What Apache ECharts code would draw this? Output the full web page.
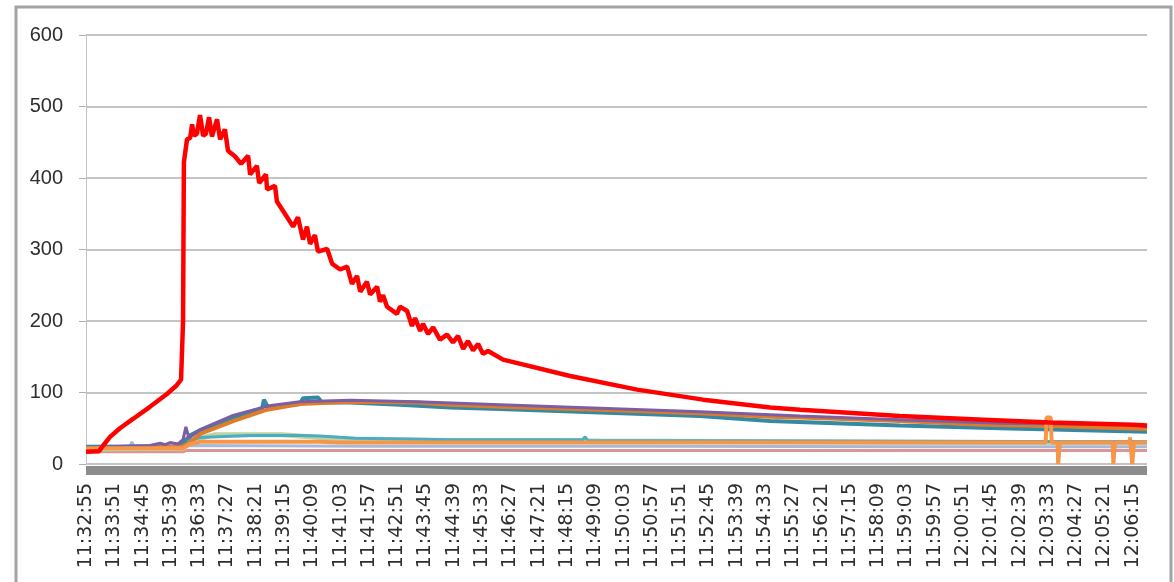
<!DOCTYPE html>
<html>
<head>
<meta charset="utf-8">
<title>chart</title>
<script src="https://cdn.jsdelivr.net/npm/echarts@6/dist/echarts.min.js"></script>
<style>
  html, body { margin: 0; padding: 0; background: #fff; }
  #myChart { width: 1174px; height: 582px; }
</style>
</head>
<body>
<div id="myChart"></div>
<script>
  // tick labels on the time axis (one per label step)
  var timeLabels = ['11:32:55', '11:33:51', '11:34:45', '11:35:39', '11:36:33', '11:37:27', '11:38:21',
    '11:39:15', '11:40:09', '11:41:03', '11:41:57', '11:42:51', '11:43:45', '11:44:39', '11:45:33',
    '11:46:27', '11:47:21', '11:48:15', '11:49:09', '11:50:03', '11:50:57', '11:51:51', '11:52:45',
    '11:53:39', '11:54:33', '11:55:27', '11:56:21', '11:57:15', '11:58:09', '11:59:03', '11:59:57',
    '12:00:51', '12:01:45', '12:02:39', '12:03:33', '12:04:27', '12:05:21', '12:06:15'];

  // x = position in label steps, y = value
  var redData = [[0, 17], [0.46, 18], [0.57, 24], [0.85, 38], [1.20, 50], [1.66, 63], [2.26, 80], [2.86, 98],
    [3.18, 109], [3.36, 118], [3.43, 200], [3.46, 422], [3.57, 454], [3.68, 456], [3.75, 475], [3.82, 459],
    [3.92, 462], [4.03, 488], [4.14, 459], [4.24, 462], [4.35, 485], [4.45, 458], [4.63, 482], [4.74, 454],
    [4.91, 468], [5.02, 438], [5.27, 430], [5.48, 420], [5.73, 431], [5.80, 405], [6.04, 417], [6.12, 393],
    [6.36, 405], [6.40, 384], [6.68, 389], [6.75, 367], [7.03, 350], [7.32, 332], [7.49, 345], [7.67, 314],
    [7.81, 332], [7.92, 308], [8.09, 320], [8.20, 297], [8.52, 301], [8.70, 280], [8.98, 272], [9.23, 276],
    [9.40, 252], [9.58, 263], [9.69, 241], [9.93, 255], [10.04, 237], [10.29, 248], [10.39, 227], [10.50, 236],
    [10.64, 220], [10.99, 210], [11.10, 220], [11.35, 214], [11.52, 193], [11.63, 204], [11.81, 186],
    [11.91, 196], [12.09, 182], [12.27, 191], [12.51, 174], [12.76, 181], [12.97, 170], [13.15, 179],
    [13.33, 161], [13.50, 172], [13.68, 159], [13.86, 168], [14.03, 154], [14.21, 158], [14.74, 146],
    [17.11, 123], [19.48, 104], [21.81, 90], [24.18, 79], [25.24, 76], [28.77, 67], [31.71, 62],
    [34.08, 58], [37.01, 55], [37.5, 54]];

  var purpleData = [[0, 23], [2.26, 26], [2.62, 29], [2.80, 27], [2.97, 30], [3.25, 28], [3.43, 34], [3.53, 52],
    [3.64, 36], [4.03, 48], [5.20, 68], [6.40, 81], [7.56, 87], [9.33, 89], [11.70, 87], [14.63, 83],
    [18.17, 78], [21.70, 73], [25.24, 67], [28.77, 62], [32.30, 57], [37.0, 55], [37.5, 52]];

  var orangeData = [[0, 22], [3.39, 24], [3.68, 30], [4.03, 42], [5.20, 60], [6.40, 76], [7.56, 84], [9.33, 87],
    [11.70, 86], [12.87, 83], [14.63, 80], [18.17, 76], [21.70, 71], [24.18, 66], [25.24, 65], [28.77, 60],
    [31.71, 55], [34.08, 53], [37.5, 49]];

  var tealData = [[0, 24], [3.32, 25], [3.68, 40], [4.03, 47], [5.20, 64], [6.22, 77], [6.29, 90], [6.43, 79],
    [7.56, 84], [7.67, 92], [8.20, 93], [8.34, 86], [9.33, 86], [11.10, 83], [12.87, 79], [14.63, 77],
    [18.17, 72], [21.70, 67], [24.18, 60], [28.77, 54], [32.30, 50], [37.5, 45]];

  var greenData = [[0, 21], [3.39, 22], [3.68, 30], [4.03, 36], [4.56, 41], [6.93, 41], [8.27, 37], [9.33, 35],
    [12.87, 33], [18.17, 32], [25.24, 31], [31.71, 30], [37.5, 30]];

  var tealLowData = [[0, 23], [3.43, 24], [3.68, 33], [4.03, 37], [5.80, 40], [7.56, 40], [8.27, 39], [9.5, 36],
    [12.87, 34], [17.55, 34], [17.64, 38], [17.73, 33], [25.24, 32], [37.5, 31]];

  var orangeLowData = [[0, 22], [3.43, 22], [3.68, 28], [4.03, 31], [8.27, 31], [9.0, 30], [33.92, 30],
    [33.95, 65], [34.10, 65], [34.13, 30], [34.34, 30], [34.36, 0], [34.40, 0], [34.42, 30], [36.29, 30],
    [36.31, 0], [36.35, 0], [36.37, 30], [36.88, 30], [36.90, 37], [36.96, 37], [36.98, 0], [37.02, 0],
    [37.04, 30], [37.5, 30]];

  var blueData = [[0, 24], [1.55, 24], [1.62, 31], [1.70, 24], [3.43, 23], [3.60, 26], [10, 25], [20, 25],
    [30, 24], [37.5, 24]];

  var pinkData = [[0, 17], [3.43, 17], [3.57, 19], [15, 19], [30, 19], [37.5, 19]];

  function line(name, data, color, width) {
    return {
      name: name,
      type: 'line',
      data: data,
      symbol: 'none',
      clip: false,
      lineStyle: { color: color, width: width },
      itemStyle: { color: color }
    }
  }

  var myChart = echarts.init(document.getElementById('myChart'));
  myChart.setOption({
    animation: false,
    backgroundColor: '#fff',
    graphic: [{
      type: 'rect',
      shape: { x: 16, y: 7, width: 1155, height: 620 },
      style: { fill: 'none', stroke: '#a3a3a3', lineWidth: 3 },
      z: -1
    }],
    grid: { left: 86, right: 27, top: 35, bottom: 118 },
    xAxis: {
      type: 'value',
      min: 0,
      max: 37.5,
      interval: 1,
      offset: 6,
      z: 1,
      axisLine: { show: true, onZero: false, lineStyle: { color: '#8c8c8c', width: 9, cap: 'butt' } },
      axisTick: { show: false },
      splitLine: { show: false },
      axisLabel: {
        rotate: 90,
        margin: 13,
        color: '#2e2e2e',
        fontFamily: 'DejaVu Sans',
        fontSize: 19,
        formatter: function (v) {
          return Number.isInteger(v) && timeLabels[v] ? timeLabels[v] : '';
        }
      }
    },
    yAxis: {
      type: 'value',
      min: 0,
      max: 600,
      interval: 100,
      axisLine: { show: true, lineStyle: { color: '#c4c4c4', width: 1 } },
      axisTick: { show: true, length: 7, lineStyle: { color: '#b0b0b0' } },
      splitLine: { lineStyle: { color: '#b0b0b0', width: 1.5 } },
      axisLabel: { color: '#2e2e2e', fontFamily: 'Liberation Sans', fontSize: 20, margin: 23 }
    },
    series: [
      line('pink', pinkData, '#d99694', 3),
      line('lightblue', blueData, '#a7b9da', 3),
      line('green', greenData, '#bcd4a0', 5),
      line('tealLow', tealLowData, '#4bacc6', 3),
      line('teal', tealData, '#3589a3', 4),
      line('orange', orangeData, '#e07b2a', 4),
      line('purple', purpleData, '#7b5ea3', 3),
      line('orangeLow', orangeLowData, '#f79646', 4),
      line('red', redData, '#ff0000', 4.5)
    ]
  });
</script>
</body>
</html>
